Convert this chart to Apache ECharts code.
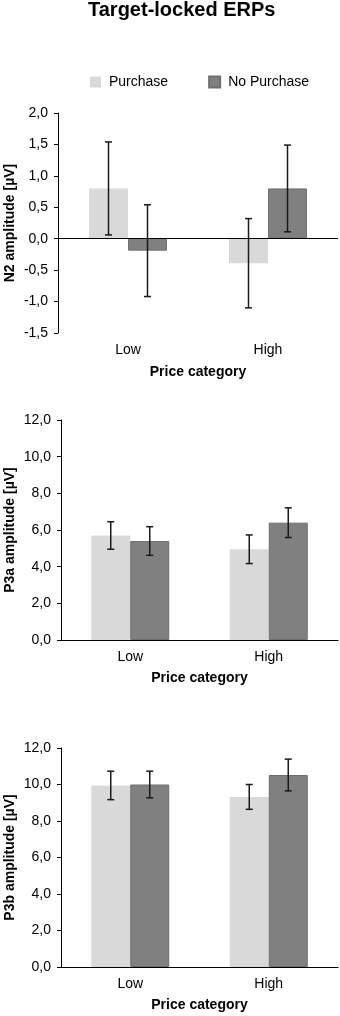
<!DOCTYPE html>
<html>
<head>
<meta charset="utf-8">
<script src="https://cdn.jsdelivr.net/npm/echarts@6/dist/echarts.min.js"></script>
<style>
  html, body { margin: 0; padding: 0; background: #fff; }
  #chart { width: 340px; height: 1016px; }
</style>
</head>
<body>
<div id="chart"></div>
<script>
// data
var categories = ['Low', 'High'];
var seriesNames = ['Purchase', 'No Purchase'];

var n2Purchase = [0.80, -0.39];
var n2PurchaseErr = [0.74, 0.71];
var n2NoPurchase = [-0.19, 0.80];
var n2NoPurchaseErr = [0.73, 0.69];

var p3aPurchase = [5.70, 4.95];
var p3aPurchaseErr = [0.75, 0.78];
var p3aNoPurchase = [5.40, 6.40];
var p3aNoPurchaseErr = [0.78, 0.81];

var p3bPurchase = [9.95, 9.32];
var p3bPurchaseErr = [0.78, 0.68];
var p3bNoPurchase = [10.0, 10.52];
var p3bNoPurchaseErr = [0.73, 0.87];

var font = '"Liberation Sans", Arial, sans-serif';
var lightGray = '#d9d9d9';
var darkGray = '#808080';
var barW = 39;

function fmt(v) {
  return v.toFixed(1).replace('.', ',');
}

function errorBars(offset) {
  return function (params, api) {
    var x = api.coord([api.value(0), 0])[0] + offset;
    var hi = api.coord([api.value(0), api.value(1) + api.value(2)])[1];
    var lo = api.coord([api.value(0), api.value(1) - api.value(2)])[1];
    var st = { stroke: '#1a1a1a', lineWidth: 1.5 };
    return {
      type: 'group',
      children: [
        { type: 'line', shape: { x1: x, y1: hi, x2: x, y2: lo }, style: st },
        { type: 'line', shape: { x1: x - 3.5, y1: hi, x2: x + 3.5, y2: hi }, style: st },
        { type: 'line', shape: { x1: x - 3.5, y1: lo, x2: x + 3.5, y2: lo }, style: st }
      ]
    };
  };
}

var panels = [
  { name: 'N2 amplitude [µV]', top: 113, bottom: 333, left: 58, min: -1.5, max: 2, interval: 0.5,
    a: n2Purchase, aErr: n2PurchaseErr, b: n2NoPurchase, bErr: n2NoPurchaseErr, zeroLine: true },
  { name: 'P3a amplitude [µV]', top: 420, bottom: 640, left: 61, min: 0, max: 12, interval: 2,
    a: p3aPurchase, aErr: p3aPurchaseErr, b: p3aNoPurchase, bErr: p3aNoPurchaseErr, zeroLine: false },
  { name: 'P3b amplitude [µV]', top: 748, bottom: 967, left: 61, min: 0, max: 12, interval: 2,
    a: p3bPurchase, aErr: p3bPurchaseErr, b: p3bNoPurchase, bErr: p3bNoPurchaseErr, zeroLine: false }
];

var grids = [], xAxes = [], yAxes = [], series = [];

panels.forEach(function (p, i) {
  grids.push({ left: p.left, right: 2, top: p.top, height: p.bottom - p.top, outerBoundsMode: 'none', containLabel: false });
  xAxes.push({
    type: 'category',
    gridIndex: i,
    data: categories,
    axisLine: { show: !p.zeroLine, onZero: false, lineStyle: { color: '#000', width: 1 } },
    axisTick: { show: false },
    axisLabel: { color: '#000', fontSize: 14, fontFamily: font, margin: 10 },
    name: 'Price category',
    nameLocation: 'middle',
    nameGap: p.zeroLine ? 32 : 31,
    nameMoveOverlap: false,
    nameTextStyle: { color: '#000', fontSize: 14, fontWeight: 'bold', fontFamily: font }
  });
  yAxes.push({
    type: 'value',
    gridIndex: i,
    min: p.min,
    max: p.max,
    interval: p.interval,
    splitLine: { show: false },
    axisLine: { show: true, lineStyle: { color: '#000', width: 1 } },
    axisTick: { show: true, length: 4, lineStyle: { color: '#000' } },
    axisLabel: { color: '#000', fontSize: 14, fontFamily: font, margin: 10, formatter: fmt },
    name: p.name,
    nameLocation: 'middle',
    nameGap: p.left - 17,
    nameMoveOverlap: false,
    nameTextStyle: { color: '#000', fontSize: 14, fontWeight: 'bold', fontFamily: font }
  });

  var barA = {
    name: seriesNames[0], type: 'bar', xAxisIndex: i, yAxisIndex: i,
    data: p.a, barWidth: barW, barGap: '0%',
    itemStyle: { color: lightGray },
    emphasis: { disabled: true }
  };
  if (p.zeroLine) {
    barA.markLine = {
      silent: true, symbol: 'none', label: { show: false },
      lineStyle: { color: '#000', width: 1, type: 'solid' },
      data: [{ yAxis: 0 }]
    };
  }
  series.push(barA);
  series.push({
    name: seriesNames[1], type: 'bar', xAxisIndex: i, yAxisIndex: i,
    data: p.b, barWidth: barW, barGap: '0%',
    itemStyle: { color: darkGray, borderColor: '#6e6e6e', borderWidth: 1 },
    emphasis: { disabled: true }
  });
  series.push({
    type: 'custom', xAxisIndex: i, yAxisIndex: i, z: 10, silent: true,
    renderItem: errorBars(-barW / 2),
    encode: { x: 0, y: 1 },
    data: p.a.map(function (v, k) { return [k, v, p.aErr[k]]; })
  });
  series.push({
    type: 'custom', xAxisIndex: i, yAxisIndex: i, z: 10, silent: true,
    renderItem: errorBars(barW / 2),
    encode: { x: 0, y: 1 },
    data: p.b.map(function (v, k) { return [k, v, p.bErr[k]]; })
  });
});

var chart = echarts.init(document.getElementById('chart'));
chart.setOption({
  animation: false,
  backgroundColor: '#fff',
  title: {
    text: 'Target-locked ERPs',
    left: 88,
    top: 0,
    padding: 0,
    textStyle: { color: '#000', fontSize: 20, fontWeight: 'bold', fontFamily: font }
  },
  legend: {
    data: seriesNames,
    left: 90,
    top: 75,
    padding: 0,
    icon: 'rect',
    itemWidth: 11,
    itemHeight: 11,
    itemGap: 40,
    textStyle: { color: '#000', fontSize: 14, fontFamily: font, padding: [0, 0, 0, 3] }
  },
  grid: grids,
  xAxis: xAxes,
  yAxis: yAxes,
  series: series
});
</script>
</body>
</html>
